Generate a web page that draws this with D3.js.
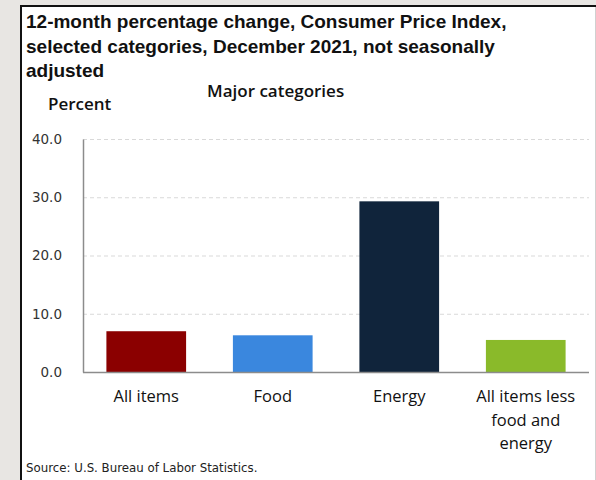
<!DOCTYPE html>
<meta charset="utf-8">
<style>
body {
  margin: 0;
  background-color: #e8e6e3;
}
svg {
  position: absolute;
  left: 0;
  top: 0;
}
.title {
  font-family: 'Liberation Sans', Arial, sans-serif;
  font-weight: bold;
  font-size: 19px;
  fill: #111;
}
.label {
  font-family: 'Open Sans', sans-serif;
  font-size: 16.5px;
  fill: #111;
}
.tick text {
  font-family: 'DejaVu Sans', sans-serif;
  font-size: 13.5px;
  fill: #333;
}
.grid line {
  stroke: #d9d9d9;
  stroke-dasharray: 4,3;
}
.source {
  font-family: 'DejaVu Sans', sans-serif;
  font-size: 11.8px;
  fill: #222;
}
</style>
<svg width="596" height="480"></svg>
<script src="https://d3js.org/d3.v7.min.js"></script>
<script>
var categories = ["All items", "Food", "Energy", "All items less food and energy"];
var labelLines = [["All items"], ["Food"], ["Energy"], ["All items less", "food and", "energy"]];
var values = [7.0, 6.3, 29.3, 5.5];
var colors = ["#8b0000", "#3a87de", "#10243b", "#8aba2a"];
var yTicks = [0, 10, 20, 30, 40];
var titleLines = [
  "12-month percentage change, Consumer Price Index,",
  "selected categories, December 2021, not seasonally",
  "adjusted"
];

var svg = d3.select("svg");

// white panel with its frame
svg.append("rect")
    .attr("x", 21).attr("y", 6)
    .attr("width", 574).attr("height", 480)
    .attr("fill", "#fff");
svg.append("line").attr("x1", 21).attr("x2", 21).attr("y1", 5).attr("y2", 480)
    .attr("stroke", "#111").attr("stroke-width", 2);
svg.append("line").attr("x1", 20).attr("x2", 596).attr("y1", 6).attr("y2", 6)
    .attr("stroke", "#111").attr("stroke-width", 2);
svg.append("line").attr("x1", 595.5).attr("x2", 595.5).attr("y1", 7).attr("y2", 480)
    .attr("stroke", "#d0d0d0").attr("stroke-width", 1);

svg.append("g").selectAll("text")
    .data(titleLines)
  .enter().append("text")
    .attr("class", "title")
    .attr("x", 26)
    .attr("y", function(d, i) { return 28 + i * 24.5; })
    .text(function(d) { return d; });

svg.append("text").attr("class", "label")
    .attr("x", 48).attr("y", 110)
    .style("font-weight", "600").style("font-size", "17px")
    .text("Percent");
svg.append("text").attr("class", "label")
    .attr("x", 207).attr("y", 97)
    .style("font-weight", "600").style("font-size", "17px")
    .text("Major categories");

var plotLeft = 83, plotRight = 589, plotTop = 139, plotBottom = 372;

var x = d3.scaleBand()
    .domain(categories)
    .range([plotLeft, plotRight])
    .paddingInner(0.37)
    .paddingOuter(0.185);

var y = d3.scaleLinear()
    .domain([0, 40])
    .range([plotBottom, plotTop]);

// dashed grid
svg.append("g")
    .attr("class", "grid")
  .selectAll("line")
    .data(yTicks.slice(1))
  .enter().append("line")
    .attr("x1", plotLeft).attr("x2", plotRight)
    .attr("y1", function(d) { return y(d) + 0.5; })
    .attr("y2", function(d) { return y(d) + 0.5; });

svg.append("g")
  .selectAll("rect")
    .data(values)
  .enter().append("rect")
    .attr("x", function(d, i) { return x(categories[i]); })
    .attr("width", x.bandwidth())
    .attr("y", function(d) { return y(d); })
    .attr("height", function(d) { return y(0) - y(d); })
    .attr("fill", function(d, i) { return colors[i]; });

var yAxis = svg.append("g")
    .attr("transform", "translate(" + plotLeft + ",0)")
    .call(d3.axisLeft(y).tickValues(yTicks).tickFormat(d3.format(".1f")).tickSize(0).tickPadding(21));
yAxis.select(".domain").attr("stroke", "#8c8c8c").attr("stroke-width", 1.5);

svg.append("line")
    .attr("x1", plotLeft).attr("x2", plotRight)
    .attr("y1", plotBottom + 0.5).attr("y2", plotBottom + 0.5)
    .attr("stroke", "#8c8c8c").attr("stroke-width", 1.5);

svg.append("g")
  .selectAll("text")
    .data(labelLines)
  .enter().append("text")
    .attr("class", "label")
    .attr("text-anchor", "middle")
    .attr("x", function(d, i) { return x(categories[i]) + x.bandwidth() / 2; })
    .attr("y", 402)
  .selectAll("tspan")
    .data(function(d) { return d; })
  .enter().append("tspan")
    .attr("x", function() { return d3.select(this.parentNode).attr("x"); })
    .attr("dy", function(d, i) { return i ? 23.5 : 0; })
    .text(function(d) { return d; });

svg.append("text").attr("class", "source")
    .attr("x", 26).attr("y", 472)
    .text("Source: U.S. Bureau of Labor Statistics.");
</script>
